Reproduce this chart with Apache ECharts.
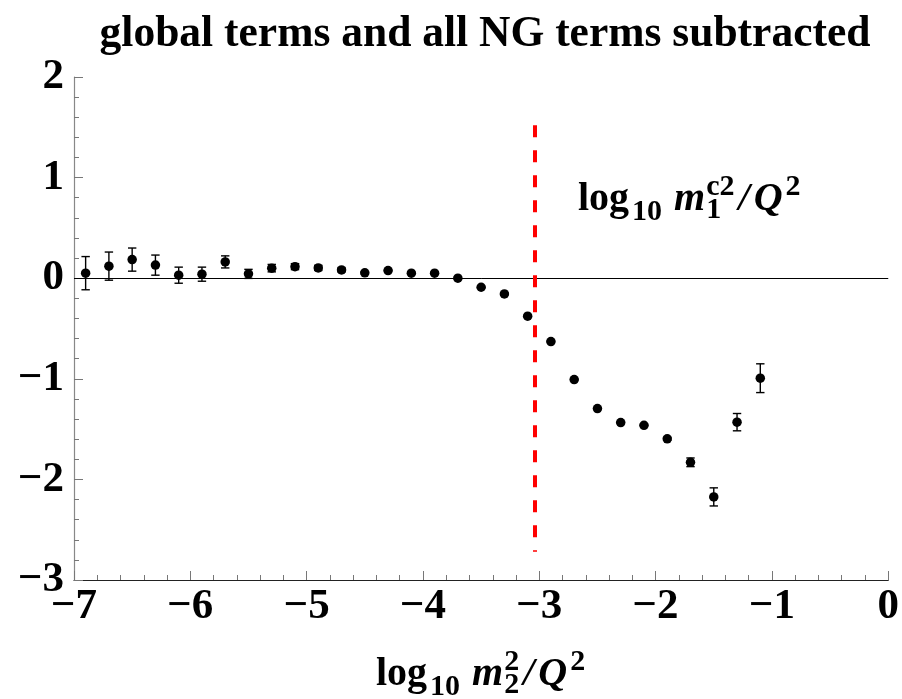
<!DOCTYPE html>
<html>
<head>
<meta charset="utf-8">
<script src="https://cdn.jsdelivr.net/npm/echarts@6/dist/echarts.min.js"></script>
<style>
  html, body { margin: 0; padding: 0; background: #fff; }
  #chart { width: 902px; height: 699px; }
</style>
</head>
<body>
<div id="chart"></div>
<script>
// log10 m2^2/Q^2 sampling points
const xValues = [-6.9, -6.7, -6.5, -6.3, -6.1, -5.9, -5.7, -5.5, -5.3, -5.1,
                 -4.9, -4.7, -4.5, -4.3, -4.1, -3.9, -3.7, -3.5, -3.3, -3.1,
                 -2.9, -2.7, -2.5, -2.3, -2.1, -1.9, -1.7, -1.5, -1.3, -1.1];
// central values after subtraction
const yValues = [0.05, 0.12, 0.185, 0.13, 0.03, 0.04, 0.162, 0.043, 0.10, 0.115,
                 0.102, 0.082, 0.053, 0.076, 0.05, 0.05, 0.0, -0.09, -0.156, -0.378,
                 -0.63, -1.008, -1.296, -1.435, -1.462, -1.597, -1.83, -2.174, -1.431, -0.994];
// statistical uncertainties (half-width)
const yErrors = [0.165, 0.14, 0.115, 0.10, 0.08, 0.07, 0.06, 0.045, 0.037, 0.03,
                 0.025, 0.02, 0.01, 0.008, 0.008, 0.008, 0.008, 0.008, 0.008, 0.008,
                 0.008, 0.008, 0.008, 0.008, 0.008, 0.015, 0.043, 0.09, 0.086, 0.143];
// position of log10 m1^c2/Q^2 and the vertical extent of its marker line
const thresholdX = -3.04;
const thresholdSpan = [1.52, -2.72];

const xRange = [-7, 0];
const yRange = [-3, 2];

const SERIF = '"Liberation Serif", "Times New Roman", serif';
const chart = echarts.init(document.getElementById('chart'), null, { renderer: 'canvas' });

// --- small typesetter for labels with sub/superscripts ---
const mctx = document.createElement('canvas').getContext('2d');
function fontOf(p) {
  return (p.italic ? 'italic ' : '') + 'bold ' + p.size + 'px ' + SERIF;
}
function widthOf(text, p) {
  mctx.font = fontOf(p);
  return mctx.measureText(text).width;
}
function middleOffset(p) {
  // distance from the alphabetic baseline up to the 'middle' baseline
  mctx.font = fontOf(p);
  mctx.textBaseline = 'alphabetic';
  const a1 = mctx.measureText('H').actualBoundingBoxAscent;
  mctx.textBaseline = 'middle';
  const a2 = mctx.measureText('H').actualBoundingBoxAscent;
  mctx.textBaseline = 'alphabetic';
  return a1 - a2;
}
function textEl(text, p, x, baseline) {
  return {
    type: 'text', x: x, y: baseline - middleOffset(p), silent: true,
    style: { text: text, font: fontOf(p), fill: '#000', align: 'left', verticalAlign: 'middle' }
  };
}
// parts: {t, size, italic, dy, gap} or {sub, sup, size, subDy, supDy, gap}
function mathLabel(parts, x0, baseline) {
  const els = [];
  let x = x0;
  parts.forEach(function (p) {
    if (p.sub !== undefined || p.sup !== undefined) {
      let w = 0;
      if (p.sub) { els.push(textEl(p.sub, p, x, baseline + p.subDy)); w = Math.max(w, widthOf(p.sub, p)); }
      if (p.sup) { els.push(textEl(p.sup, p, x, baseline + p.supDy)); w = Math.max(w, widthOf(p.sup, p)); }
      x += w + (p.gap || 0);
    } else {
      els.push(textEl(p.t, p, x, baseline + (p.dy || 0)));
      x += widthOf(p.t, p) + (p.gap || 0);
    }
  });
  return els;
}

const BIG = 40, SMALL = 30;
function logRatioLabel(sub, sup, x0, baseline) {
  return mathLabel([
    { t: 'log', size: BIG, gap: 3 },
    { t: '10', size: SMALL, dy: 10, gap: 12 },
    { t: 'm', size: BIG, italic: true, gap: 1 },
    { sub: sub, sup: sup, size: SMALL, subDy: 8, supDy: -15, gap: 4 },
    { t: '/', size: BIG, italic: true, gap: 4 },
    { t: 'Q', size: BIG, italic: true, gap: 3 },
    { sup: '2', size: SMALL, supDy: -15 }
  ], x0, baseline);
}
const xTitle = logRatioLabel('2', '2', 376, 685);
const markerText = logRatioLabel('1', 'c2', 578, 210);

function tickLabel(v) {
  return v < 0 ? '\u2212' + (-v) : String(v);
}

const axisCommon = {
  type: 'value',
  interval: 1,
  splitLine: { show: false },
  minorSplitLine: { show: false },
  axisTick: { show: true, inside: true, length: 9, lineStyle: { color: '#777', width: 1 } },
  minorTick: { show: true, splitNumber: 5, length: 5, lineStyle: { color: '#777', width: 1 } },
  axisLabel: {
    formatter: tickLabel,
    fontFamily: SERIF, fontWeight: 'bold', fontSize: 43, color: '#000',
    showMinLabel: true, showMaxLabel: true
  }
};

const option = {
  backgroundColor: '#fff',
  animation: false,
  title: {
    text: 'global terms and all NG terms subtracted',
    left: 480, top: 8, textAlign: 'center',
    textStyle: { fontFamily: SERIF, fontWeight: 'bold', fontSize: 43.5, color: '#000' }
  },
  grid: { left: 74, right: 13, top: 77, bottom: 119, containLabel: false },
  xAxis: Object.assign({}, axisCommon, {
    min: xRange[0], max: xRange[1],
    axisLine: { show: true, onZero: false, lineStyle: { color: '#222', width: 1.2 } },
    axisLabel: Object.assign({}, axisCommon.axisLabel, { margin: 5 })
  }),
  yAxis: Object.assign({}, axisCommon, {
    min: yRange[0], max: yRange[1],
    axisLine: { show: true, onZero: false, lineStyle: { color: '#888', width: 1.2 } },
    axisLabel: Object.assign({}, axisCommon.axisLabel, { margin: 10 })
  }),
  graphic: xTitle.concat(markerText),
  series: [
    {
      type: 'custom',
      name: 'errors',
      silent: true,
      z: 3,
      data: xValues.map(function (x, i) { return [x, yValues[i] - yErrors[i], yValues[i] + yErrors[i]]; }),
      renderItem: function (params, api) {
        const x = api.value(0);
        const lo = api.coord([x, api.value(1)]);
        const hi = api.coord([x, api.value(2)]);
        const hw = 4.2;
        const st = { stroke: '#000', lineWidth: 1.4 };
        return {
          type: 'group',
          children: [
            { type: 'line', shape: { x1: lo[0], y1: lo[1], x2: hi[0], y2: hi[1] }, style: st },
            { type: 'line', shape: { x1: lo[0] - hw, y1: lo[1], x2: lo[0] + hw, y2: lo[1] }, style: st },
            { type: 'line', shape: { x1: hi[0] - hw, y1: hi[1], x2: hi[0] + hw, y2: hi[1] }, style: st }
          ]
        };
      }
    },
    {
      type: 'scatter',
      name: 'values',
      z: 4,
      symbol: 'circle',
      symbolSize: 9.5,
      itemStyle: { color: '#000', opacity: 1 },
      data: xValues.map(function (x, i) { return [x, yValues[i]]; }),
      markLine: {
        silent: true,
        symbol: 'none',
        label: { show: false },
        animation: false,
        data: [
          { yAxis: 0, lineStyle: { color: '#000', width: 1, type: 'solid', opacity: 1 } },
          [
            { coord: [thresholdX, thresholdSpan[0]], lineStyle: { color: '#ff0000', width: 4, type: [12, 13], opacity: 1 } },
            { coord: [thresholdX, thresholdSpan[1]] }
          ]
        ]
      }
    }
  ]
};

chart.setOption(option);
</script>
</body>
</html>
